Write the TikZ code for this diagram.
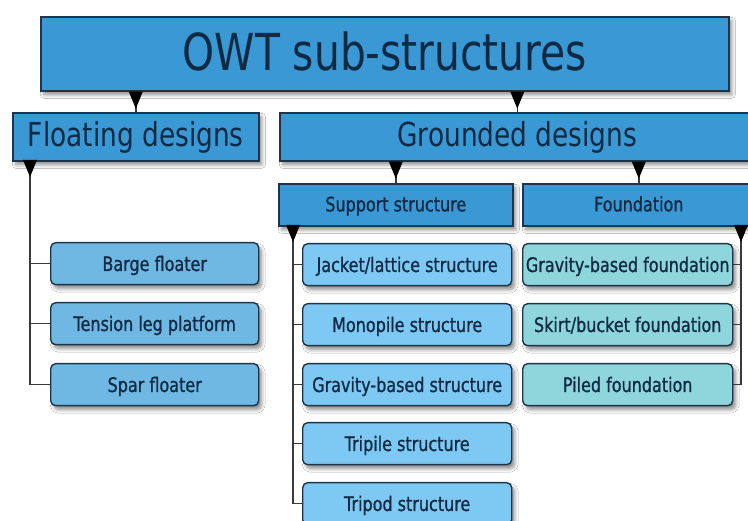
\documentclass[tikz,border=0pt]{standalone}
\usepackage{fontspec}
\setmainfont[FakeStretch=0.8]{DejaVu Sans}
\newfontfamily\smallfont[FakeStretch=0.8, FakeBold=0.9]{DejaVu Sans}
\usetikzlibrary{shadows.blur,calc}

\definecolor{headfill}{HTML}{3A98D4}
\definecolor{floatfill}{HTML}{70B8E4}
\definecolor{suppfill}{HTML}{7EC9F3}
\definecolor{foundfill}{HTML}{8FD6DC}
\definecolor{edgecol}{HTML}{1E3448}
\definecolor{txtcol}{HTML}{102A44}
\definecolor{linecol}{HTML}{3A3A3A}

\tikzset{
  boxshadow/.style={blur shadow={shadow xshift=3pt, shadow yshift=-4pt,
      shadow blur radius=3.5pt, shadow blur steps=8, shadow opacity=45}},
  headbox/.style={draw=edgecol, line width=1.6pt, fill=headfill, boxshadow,
      text=txtcol, inner sep=0pt, anchor=north west},
  bigtext/.style={font=\fontsize{51}{56}\selectfont, text height=40pt, text depth=7pt},
  midtext/.style={font=\fontsize{33}{36}\selectfont, text height=26pt, text depth=6pt},
  smalltext/.style={font=\smallfont\fontsize{20}{22}\selectfont,
      text height=17.4pt, text depth=2.8pt},
  leafbox/.style={draw=edgecol, line width=1.4pt, rounded corners=5pt, boxshadow,
      text=txtcol, inner sep=0pt, anchor=north west, smalltext,
      minimum width=208pt, minimum height=42pt},
  floatleaf/.style={leafbox, fill=floatfill},
  suppleaf/.style={leafbox, fill=suppfill, minimum width=209pt},
  foundleaf/.style={leafbox, fill=foundfill, minimum width=210pt},
  conn/.style={draw=linecol, line width=1.6pt},
  tip/.style={fill=black}
}

% downward triangle with its base centred on #1
\newcommand{\downtip}[1]{\fill[tip] ($#1+(-7,0)$) -- ($#1+(7,0)$) -- ($#1+(0,17)$) -- cycle;}

\begin{document}
\begin{tikzpicture}[x=1pt, y=-1pt]
\clip (0,0) rectangle (748,521);
\fill[white] (0,0) rectangle (748,521);

% header boxes
\node[headbox, bigtext, minimum width=688pt, minimum height=74pt]
  (owt) at (40,16) {OWT sub-structures};
\node[headbox, midtext, minimum width=246pt, minimum height=48pt]
  (float) at (12,112) {Floating designs};
\node[headbox, midtext, minimum width=475pt, minimum height=48pt]
  (ground) at (279,112) {Grounded designs};
\node[headbox, smalltext, minimum width=234pt, minimum height=42pt,
      text height=16pt, text depth=2.8pt]
  (supp) at (278,183) {Support structure};
\node[headbox, smalltext, minimum width=232pt, minimum height=42pt,
      text height=16pt, text depth=2.8pt]
  (found) at (522,183) {Foundation};

% floating designs
\node[floatleaf] (barge) at (50,242) {Barge floater};
\node[floatleaf] (tlp)   at (50,302) {Tension leg platform};
\node[floatleaf] (spar)  at (50,363) {Spar floater};

% support structures
\node[suppleaf] (jacket)  at (302,243) {Jacket/lattice structure};
\node[suppleaf] (mono)    at (302,303) {Monopile structure};
\node[suppleaf] (gbs)     at (302,363) {Gravity-based structure};
\node[suppleaf] (tripile) at (302,422) {Tripile structure};
\node[suppleaf] (tripod)  at (302,482) {Tripod structure};

% foundations
\node[foundleaf] (gbf)   at (522,243) {Gravity-based foundation};
\node[foundleaf] (skirt) at (522,303) {Skirt/bucket foundation};
\node[foundleaf] (piled) at (522,363) {Piled foundation};

% top level connectors
\coordinate (owtA) at (owt.south -| float.north);
\coordinate (owtB) at (owt.south -| ground.north);
\draw[conn] (owtA) -- (float.north);
\draw[conn] (owtB) -- (ground.north);
\downtip{(owtA)}
\downtip{(owtB)}

\coordinate (grA) at (ground.south -| supp.north);
\coordinate (grB) at (ground.south -| found.north);
\draw[conn] (grA) -- (supp.north);
\draw[conn] (grB) -- (found.north);
\downtip{(grA)}
\downtip{(grB)}

% floating branch
\coordinate (fl0) at (30,160);
\draw[conn] (fl0) |- (spar.west);
\draw[conn] (barge.west) -- (barge.west -| fl0);
\draw[conn] (tlp.west) -- (tlp.west -| fl0);
\downtip{(fl0)}

% support branch
\coordinate (sp0) at (293,225);
\draw[conn] (sp0) |- (tripod.west);
\foreach \n in {jacket,mono,gbs,tripile}
  \draw[conn] (\n.west) -- (\n.west -| sp0);
\downtip{(sp0)}

% foundation branch
\coordinate (fd0) at (741,225);
\draw[conn] (fd0) |- (piled.east);
\foreach \n in {gbf,skirt}
  \draw[conn] (\n.east) -- (\n.east -| fd0);
\downtip{(fd0)}

\end{tikzpicture}
\end{document}
